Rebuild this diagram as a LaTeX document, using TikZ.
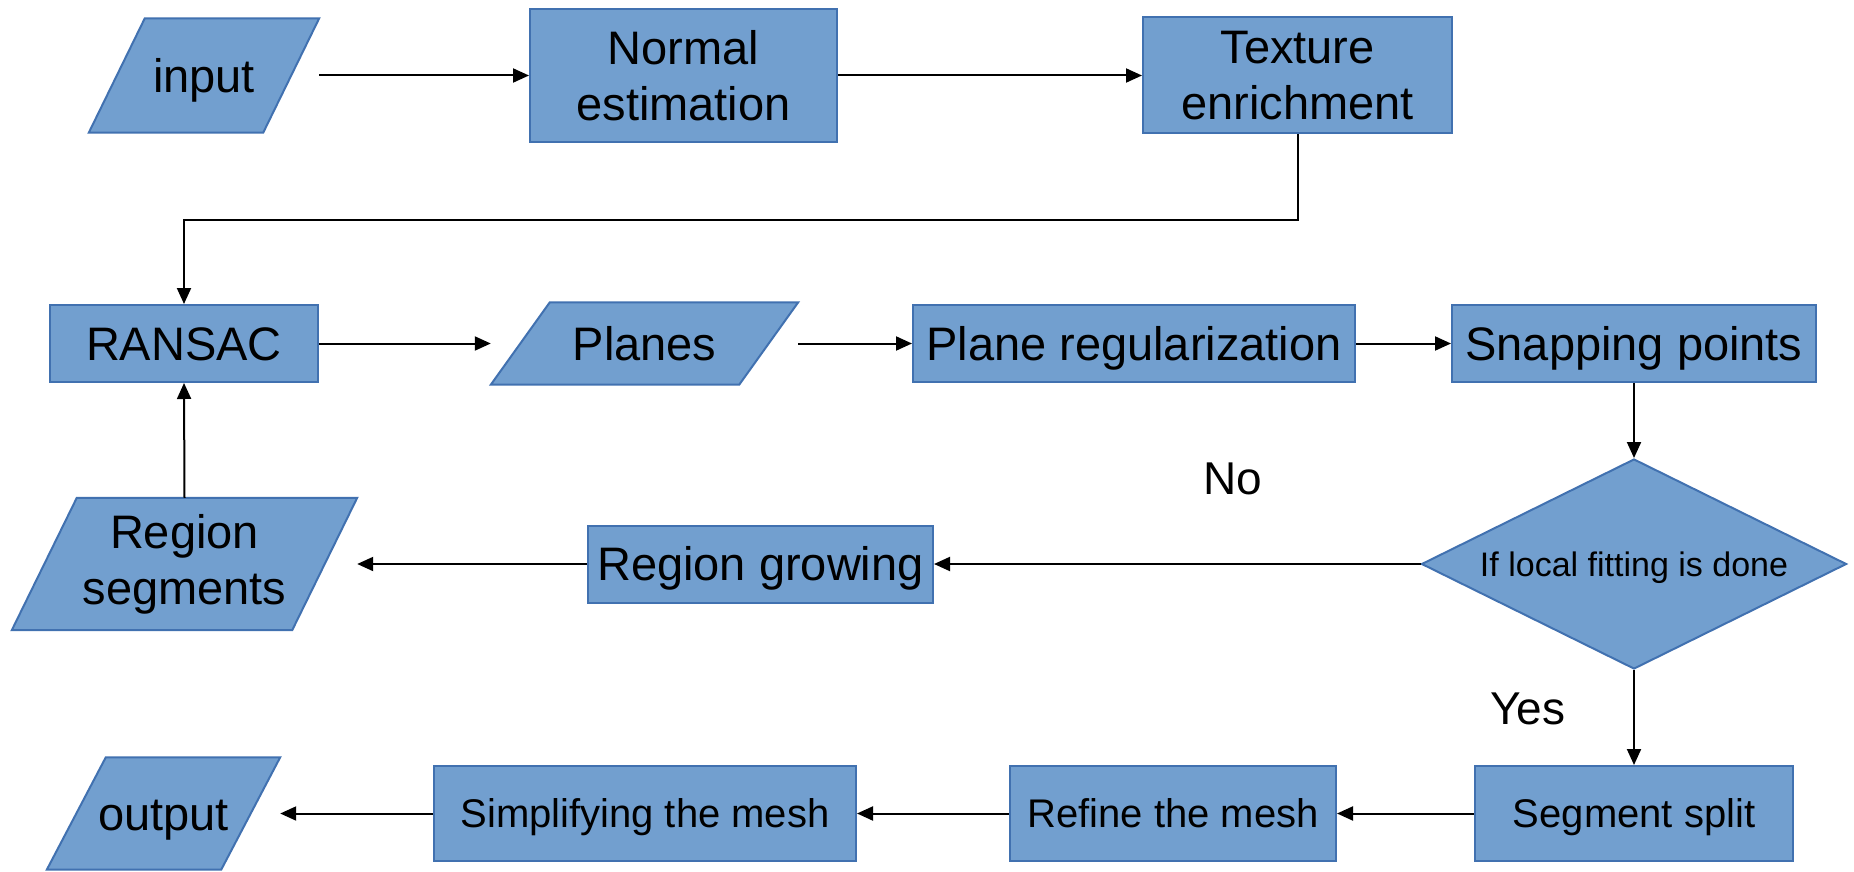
\documentclass[tikz,border=0pt]{standalone}
\usepackage{fontspec}
\setmainfont{Liberation Sans}
\usetikzlibrary{shapes.geometric,arrows.meta,backgrounds}
\definecolor{boxfill}{RGB}{114,159,207}
\definecolor{boxline}{RGB}{65,113,176}
\begin{document}
\begin{tikzpicture}[x=1pt,y=-1pt,
  boxbase/.style={rectangle,draw=boxline,fill=boxfill,line width=2pt,inner sep=0pt,align=center,font=\fontsize{47}{56}\selectfont},
  box/.style={boxbase,text height=42pt,text depth=8.5pt},
  twobox/.style={boxbase},
  smallbox/.style={boxbase,font=\fontsize{40}{48}\selectfont,text height=36pt,text depth=7.4pt},
  parabase/.style={rectangle,inner sep=0pt,align=center,font=\fontsize{47}{56}\selectfont},
  paranode/.style={parabase,text height=42pt,text depth=8.5pt},
  decision/.style={diamond,draw=boxline,fill=boxfill,line width=2pt,inner sep=0pt,aspect=2,text height=30.6pt,text depth=6.3pt,font=\fontsize{34}{40}\selectfont},
  arr/.style={line width=2pt,-{Triangle[length=16pt,width=14pt]}},
  lbl/.style={font=\fontsize{46}{55}\selectfont,inner sep=0pt}
]
\useasboundingbox (0,0) rectangle (1854,872);
% nodes
\node[paranode,minimum width=230pt,minimum height=114pt] (in) at (204,75.5) {input};
\node[twobox,minimum width=307pt,minimum height=133pt] (ne) at (683.5,75.5) {Normal\\estimation};
\node[twobox,minimum width=309pt,minimum height=116pt] (te) at (1297.5,75.5) {Texture\\enrichment};
\node[box,minimum width=268pt,minimum height=77pt] (ra) at (184,343.5) {RANSAC};
\node[paranode,minimum width=307pt,minimum height=82pt] (pl) at (644.5,343.5) {Planes};
\node[box,minimum width=442pt,minimum height=77pt] (pr) at (1134,343.5) {Plane regularization};
\node[box,minimum width=364pt,minimum height=77pt] (sp) at (1634,343.5) {Snapping points};
\node[decision,minimum width=425pt,minimum height=210pt] (dc) at (1634,564) {If local fitting is done};
\node[box,minimum width=345pt,minimum height=77pt] (rg) at (760.5,564) {Region growing};
\node[parabase,minimum width=345pt,minimum height=132pt] (rs) at (184.5,564) {Region\\segments};
\node[smallbox,minimum width=318pt,minimum height=95pt] (ss) at (1634,813.5) {Segment split};
\node[smallbox,minimum width=326pt,minimum height=95pt] (rm) at (1173,813.5) {Refine the mesh};
\node[smallbox,minimum width=422pt,minimum height=95pt] (sm) at (645,813.5) {Simplifying the mesh};
\node[paranode,minimum width=233pt,minimum height=112pt] (out) at (163.5,813.5) {output};
\node[lbl] (no) at (1233,479) {No};
\node[lbl] (yes) at (1528,709) {Yes};
% parallelogram outlines and white page behind everything
\begin{scope}[on background layer]
\fill[white] (0,0) rectangle (1854,872);
\foreach \n/\s in {in/56,pl/59,rs/65,out/59}{
  \draw[draw=boxline,fill=boxfill,line width=2pt] (\n.south west) -- ([xshift=\s pt]\n.north west) -- (\n.north east) -- ([xshift=-\s pt]\n.south east) -- cycle;
}
\end{scope}
% connectors
\draw[arr] (in.east) -- (ne.west);
\draw[arr] (ne.east) -- (te.west);
\draw[arr] (te.south) -- ++(0,85) -| (ra.north);
\draw[arr] (ra.east) -- (pl.west);
\draw[arr] (pl.east) -- (pr.west);
\draw[arr] (pr.east) -- (sp.west);
\draw[arr] (sp.south) -- (dc.north);
\draw[arr] (dc.west) -- (rg.east);
\draw[arr] (rg.west) -- (rs.east);
\draw[arr] (rs.north) -- (ra.south);
\draw[arr] (dc.south) -- (ss.north);
\draw[arr] (ss.west) -- (rm.east);
\draw[arr] (rm.west) -- (sm.east);
\draw[arr] (sm.west) -- (out.east);
\end{tikzpicture}
\end{document}
